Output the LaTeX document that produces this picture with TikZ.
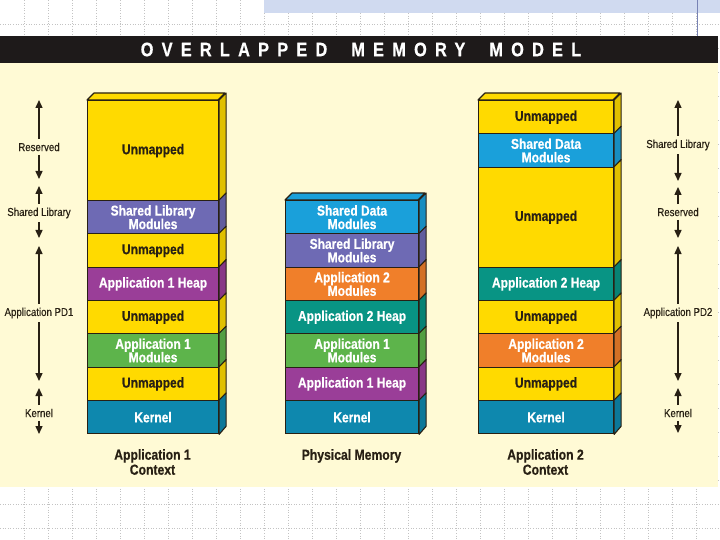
\documentclass[tikz,border=0pt]{standalone}
\usepackage{fontspec}
\usetikzlibrary{arrows.meta,calc}
\newfontfamily\cond[FakeStretch=0.84,BoldFeatures={FakeBold=0.6}]{Liberation Sans}
\newfontfamily\condm[FakeStretch=0.84,FakeBold=0.3]{Liberation Sans}
\definecolor{unmap}{RGB}{255,218,0}
\definecolor{slib}{RGB}{110,106,180}
\definecolor{aoneheap}{RGB}{154,62,152}
\definecolor{aonemod}{RGB}{93,180,75}
\definecolor{kern}{RGB}{14,136,174}
\definecolor{sdata}{RGB}{26,160,218}
\definecolor{atwomod}{RGB}{240,127,42}
\definecolor{atwoheap}{RGB}{8,148,132}
\definecolor{cream}{RGB}{255,250,213}
\definecolor{barc}{RGB}{30,26,26}
\definecolor{ink}{RGB}{40,32,20}
\definecolor{gridc}{RGB}{195,195,195}
\definecolor{hatch}{RGB}{208,218,240}
\definecolor{vline}{RGB}{120,130,180}
\newcommand\mband[8]{%
  \node[band, fill=#6, text=#7, minimum width=#4pt, minimum height=#5pt, anchor=north west] (#1) at (#2,#3) {#8};
  \filldraw[edge, fill=#6!88!black] (#1.north east) -- ++(7,-7) -- ++(0,#5) -- (#1.south east) -- cycle;
}
\begin{document}
\begin{tikzpicture}[x=1pt,y=-1pt,
  band/.style={draw=ink, line width=1.1pt, inner sep=0pt, align=center,
    font=\cond\bfseries\fontsize{14.3}{13.5}\selectfont},
  edge/.style={draw=ink, line width=1.1pt, line join=round},
  sidelab/.style={font=\condm\fontsize{11.5}{12}\selectfont, text=ink, inner sep=3.5pt},
  caption/.style={font=\cond\bfseries\fontsize{14.5}{15}\selectfont, text=ink, align=center},
  arr/.style={draw=ink, line width=1.4pt, -{Triangle[length=8pt,width=7pt]}}]
\useasboundingbox (0,0) rectangle (720,540);
% slide background
\fill[white] (0,0) rectangle (720,540);
\foreach \g in {24,48,...,720} \draw[gridc, dotted, line width=0.6pt] (\g,0) -- (\g,540);
\foreach \g in {24,48,...,528} \draw[gridc, dotted, line width=0.6pt] (0,\g) -- (720,\g);
\fill[hatch] (264,0) rectangle (720,13);
\draw[vline, line width=0.8pt] (697,0) -- (697,36);
% figure panel
\fill[cream] (0,63) rectangle (718,487);
\fill[barc] (0,36) rectangle (718,63);
\node[text=white, font=\cond\bfseries\fontsize{19.5}{19.5}\selectfont\addfontfeature{LetterSpace=42}] (title) at (361,49.5) {OVERLAPPED\hspace{24pt}MEMORY\hspace{24pt}MODEL};
% ---- Application 1 context
\filldraw[edge, fill=unmap] (87,100) -- ++(7,-7) -- ++(131,0) -- (218,100) -- cycle;
\mband{la}{87}{100}{131}{100}{unmap}{ink}{Unmapped}
\mband{lb}{87}{200}{131}{33.3}{slib}{white}{Shared Library\\Modules}
\mband{lc}{87}{233.3}{131}{33.3}{unmap}{ink}{Unmapped}
\mband{ld}{87}{266.7}{131}{33.3}{aoneheap}{white}{Application 1 Heap}
\mband{le}{87}{300}{131}{33.3}{unmap}{ink}{Unmapped}
\mband{lf}{87}{333.3}{131}{33.3}{aonemod}{white}{Application 1\\Modules}
\mband{lg}{87}{366.7}{131}{33.3}{unmap}{ink}{Unmapped}
\mband{lh}{87}{400}{131}{33.3}{kern}{white}{Kernel}
\node[caption] (lcap) at (152.5,462) {Application 1\\Context};
% ---- Physical memory
\filldraw[edge, fill=sdata] (285,200) -- ++(7,-7) -- ++(133,0) -- (418,200) -- cycle;
\mband{ma}{285}{200}{133}{33.3}{sdata}{white}{Shared Data\\Modules}
\mband{mb}{285}{233.3}{133}{33.3}{slib}{white}{Shared Library\\Modules}
\mband{mc}{285}{266.7}{133}{33.3}{atwomod}{white}{Application 2\\Modules}
\mband{md}{285}{300}{133}{33.3}{atwoheap}{white}{Application 2 Heap}
\mband{me}{285}{333.3}{133}{33.3}{aonemod}{white}{Application 1\\Modules}
\mband{mf}{285}{366.7}{133}{33.3}{aoneheap}{white}{Application 1 Heap}
\mband{mg}{285}{400}{133}{33.3}{kern}{white}{Kernel}
\node[caption] (mcap) at (351.5,456) {Physical Memory};
% ---- Application 2 context
\filldraw[edge, fill=unmap] (478,100) -- ++(7,-7) -- ++(135,0) -- (613,100) -- cycle;
\mband{ra}{478}{100}{135}{33.3}{unmap}{ink}{Unmapped}
\mband{rb}{478}{133.3}{135}{33.3}{sdata}{white}{Shared Data\\Modules}
\mband{rc}{478}{166.7}{135}{100}{unmap}{ink}{Unmapped}
\mband{rd}{478}{266.7}{135}{33.3}{atwoheap}{white}{Application 2 Heap}
\mband{re}{478}{300}{135}{33.3}{unmap}{ink}{Unmapped}
\mband{rf}{478}{333.3}{135}{33.3}{atwomod}{white}{Application 2\\Modules}
\mband{rg}{478}{366.7}{135}{33.3}{unmap}{ink}{Unmapped}
\mband{rh}{478}{400}{135}{33.3}{kern}{white}{Kernel}
\node[caption] (rcap) at (545.5,462) {Application 2\\Context};
% ---- left ranges
\coordinate (l1t) at (39,100); \coordinate (l1b) at (39,179);
\coordinate (l2t) at (39,186); \coordinate (l2b) at (39,238);
\coordinate (l3t) at (39,246); \coordinate (l3b) at (39,381);
\coordinate (l4t) at (39,388); \coordinate (l4b) at (39,434);
\node[sidelab] (lres) at (39,147) {Reserved};
\node[sidelab] (lsl) at (39,213) {Shared Library};
\node[sidelab] (lpd) at (39,313) {Application PD1};
\node[sidelab] (lker) at (39,413) {Kernel};
\draw[arr] (lres.north) -- (l1t); \draw[arr] (lres.south) -- (l1b);
\draw[arr] (lsl.north) -- (l2t); \draw[arr] (lsl.south) -- (l2b);
\draw[arr] (lpd.north) -- (l3t); \draw[arr] (lpd.south) -- (l3b);
\draw[arr] (lker.north) -- (l4t); \draw[arr] (lker.south) -- (l4b);
% ---- right ranges
\coordinate (r1t) at (678,100); \coordinate (r1b) at (678,181);
\coordinate (r2t) at (678,187); \coordinate (r2b) at (678,238);
\coordinate (r3t) at (678,246); \coordinate (r3b) at (678,381);
\coordinate (r4t) at (678,388); \coordinate (r4b) at (678,433);
\node[sidelab] (rsl) at (678,145) {Shared Library};
\node[sidelab] (rres) at (678,212) {Reserved};
\node[sidelab] (rpd) at (678,313) {Application PD2};
\node[sidelab] (rker) at (678,413) {Kernel};
\draw[arr] (rsl.north) -- (r1t); \draw[arr] (rsl.south) -- (r1b);
\draw[arr] (rres.north) -- (r2t); \draw[arr] (rres.south) -- (r2b);
\draw[arr] (rpd.north) -- (r3t); \draw[arr] (rpd.south) -- (r3b);
\draw[arr] (rker.north) -- (r4t); \draw[arr] (rker.south) -- (r4b);
\end{tikzpicture}
\end{document}
